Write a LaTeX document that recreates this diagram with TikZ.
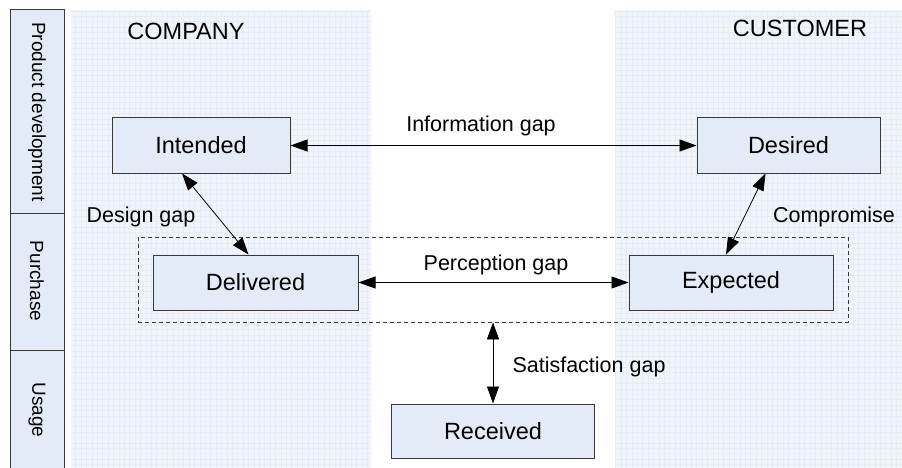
\documentclass[tikz,border=0pt]{standalone}
\usepackage{fontspec}
\setmainfont{Liberation Sans}
\usetikzlibrary{arrows.meta, positioning}

\definecolor{bandfill}{HTML}{F1F5FB}
\definecolor{bandgrid}{HTML}{E6ECF7}
\definecolor{boxfill}{HTML}{E4EBF8}
\definecolor{boxline}{HTML}{3A3A3A}

\begin{document}
\begin{tikzpicture}[
      x=1pt, y=-1pt,
      every node/.style={inner sep=0pt, font=\fontsize{21.5}{24}\selectfont},
      stage/.style={draw=boxline, line width=1pt, fill=boxfill, minimum height=55pt,
        font=\fontsize{23.5}{26}\selectfont},
      phase/.style={rotate=-90, font=\fontsize{19}{22}\selectfont},
      gap/.style={<->, line width=0.8pt},
      >={Triangle[length=17pt, width=12pt]}
    ]
      \useasboundingbox (0,0) rectangle (902,468);

      % shaded bands for the two sides
      \fill[bandfill] (71,10) rectangle (371,468);
      \fill[bandfill] (615,10) rectangle (902,468);
      \draw[bandgrid, line width=0.4pt, step=5.4pt] (71,10) grid (371,468);
      \draw[bandgrid, line width=0.4pt, step=5.4pt] (615,10) grid (902,468);

      % phases column
      \draw[boxline, line width=1pt, fill=boxfill] (10,10) rectangle (64,475);
      \draw[boxline, line width=1pt] (10,213) -- (64,213);
      \draw[boxline, line width=1pt] (10,350) -- (64,350);
      \node[phase] (pdev) at (37,112) {Product development};
      \node[phase] (purch) at (37,281) {Purchase};
      \node[phase] (usage) at (37,410) {Usage};

      \node[font=\fontsize{23.5}{26}\selectfont] (company) at (186,31) {COMPANY};
      \node[font=\fontsize{23.5}{26}\selectfont] (customer) at (800,28) {CUSTOMER};

      \node[draw=boxline, dash pattern=on 4pt off 3pt, line width=0.8pt,
        minimum width=710pt, minimum height=85pt] (purchase) at (493,279.5) {};

      \node[stage, minimum width=178pt] (intended) at (201,145.5) {Intended};
      \node[stage, minimum width=183pt] (desired) at (788.5,145.5) {Desired};
      \node[stage, minimum width=205pt] (delivered) at (255.5,282.5) {Delivered};
      \node[stage, minimum width=204pt] (expected) at (731,282.5) {Expected};
      \node[stage, minimum width=203pt, minimum height=54pt] (received) at (493,431) {Received};

      \draw[gap] (intended) -- (desired);
      \draw[gap] (delivered) -- (expected);
      \draw[gap] ([xshift=-19pt]intended.south) -- ([xshift=-7pt]delivered.north);
      \draw[gap] ([xshift=-23pt]desired.south) -- ([xshift=-5pt]expected.north);
      \draw[gap] (purchase.south) -- (received.north);

      \node (infogap) at (481,126) {Information gap};
      \node (designgap) at (141,217) {Design gap};
      \node (compromise) at (834,217) {Compromise};
      \node (percgap) at (496,265) {Perception gap};
      \node (satgap) at (589,367) {Satisfaction gap};
    \end{tikzpicture}
\end{document}
